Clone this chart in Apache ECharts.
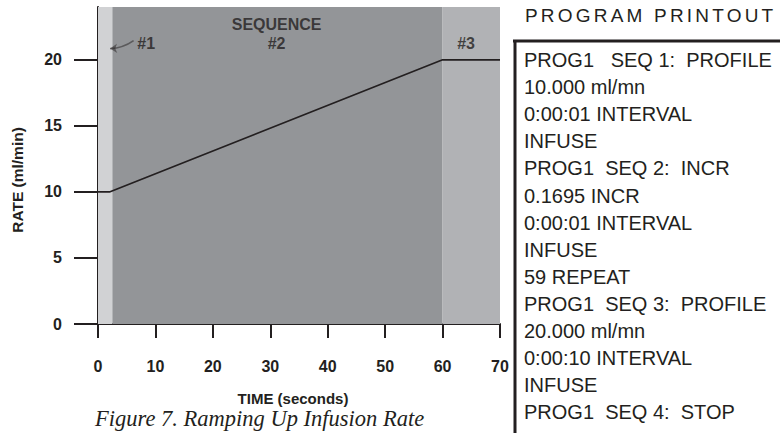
<!DOCTYPE html>
<html>
<head>
<meta charset="utf-8">
<script src="https://cdn.jsdelivr.net/npm/echarts@6/dist/echarts.min.js"></script>
<style>
  html, body { margin: 0; padding: 0; background: #fff; }
  #main { width: 780px; height: 433px; }
</style>
</head>
<body>
<div id="main"></div>
<script>
// rate profile (seconds, ml/min)
var times = [0, 2, 60, 70];
var rates = [10, 10, 20, 20];

var xTicks = [0, 10, 20, 30, 40, 50, 60, 70];
var yTicks = [0, 5, 10, 15, 20];

// sequence bands: [from, to]
var bandNames = ['#1', '#2', '#3'];
var bandRanges = [[0, 2.5], [2.5, 60], [60, 70]];
var bandColors = ['#d1d2d4', '#939598', '#b1b2b5'];

// annotation labels in data coords
var noteTexts = ['SEQUENCE', '#2', '#3', '#1'];
var notePos = [[31.1, 22.7], [31.1, 21.2], [64.1, 21.2], [8.4, 21.2]];
var arrowFrom = [6.2, 21.45];
var arrowTo = [2.1, 20.85];

var printTitle = 'PROGRAM PRINTOUT';
var printLines = [
    'PROG1   SEQ 1:  PROFILE',
    '10.000 ml/mn',
    '0:00:01 INTERVAL',
    'INFUSE',
    'PROG1  SEQ 2:  INCR',
    '0.1695 INCR',
    '0:00:01 INTERVAL',
    'INFUSE',
    '59 REPEAT',
    'PROG1  SEQ 3:  PROFILE',
    '20.000 ml/mn',
    '0:00:10 INTERVAL',
    'INFUSE',
    'PROG1  SEQ 4:  STOP'
];
var caption = 'Figure 7. Ramping Up Infusion Rate';

var ink = '#231f20';
var sans = 'Liberation Sans';

var chart = echarts.init(document.getElementById('main'), null, { renderer: 'svg' });

var lineData = times.map(function (t, i) { return [t, rates[i]]; });
var bandData = bandRanges.map(function (r, i) {
    return [
        { xAxis: r[0], yAxis: 0, itemStyle: { color: bandColors[i] } },
        { xAxis: r[1], yAxis: 24 }
    ];
});
var noteData = noteTexts.map(function (t, i) {
    return { name: t, value: notePos[i] };
});

var graphics = [
    {
        type: 'text', x: 525, y: 15,
        style: { text: printTitle, font: '19px ' + sans, fill: ink, verticalAlign: 'middle' }
    },
    {
        type: 'line',
        shape: { x1: 513, y1: 41, x2: 780, y2: 41 },
        style: { stroke: ink, lineWidth: 3 }
    },
    {
        type: 'line',
        shape: { x1: 515, y1: 40, x2: 515, y2: 433 },
        style: { stroke: ink, lineWidth: 3 }
    },
    {
        type: 'text', left: 95, top: 407,
        style: { text: caption, font: 'italic 22.5px "Liberation Serif"', fill: ink }
    },
    {
        type: 'text', x: 17, y: 180, rotation: Math.PI / 2,
        style: {
            text: 'RATE (ml/min)', font: 'bold 15.5px ' + sans, fill: ink,
            align: 'center', verticalAlign: 'middle'
        }
    }
];
printLines.forEach(function (s, i) {
    graphics.push({
        type: 'text',
        x: 524, y: 60 + i * 27.1,
        style: { text: s, font: '20px ' + sans, fill: ink, verticalAlign: 'middle' }
    });
});

var option = {
    animation: false,
    backgroundColor: '#fff',
    grid: { left: 98, right: 280, top: 7, bottom: 109 },
    xAxis: [
        {
            type: 'value', min: 0, max: 70, interval: 10, offset: 8,
            name: 'TIME (seconds)', nameLocation: 'middle', nameGap: 59,
            nameTextStyle: { fontFamily: sans, fontWeight: 'bold', fontSize: 15, color: ink, padding: [0, 12, 0, 0] },
            axisLine: { show: false },
            axisTick: { length: 14, lineStyle: { color: ink, width: 2 } },
            axisLabel: { margin: 26, fontFamily: sans, fontWeight: 'bold', fontSize: 16, color: ink },
            splitLine: { show: false }
        },
        {
            type: 'value', min: 0, max: 70, position: 'bottom', offset: 0,
            axisLine: { show: true, lineStyle: { color: ink, width: 2 } },
            axisTick: { show: false }, axisLabel: { show: false }, splitLine: { show: false }
        }
    ],
    yAxis: [
        {
            type: 'value', min: 0, max: 24, offset: 4,
            axisLine: { show: false },
            axisTick: { length: 24, customValues: yTicks, lineStyle: { color: ink, width: 2 } },
            axisLabel: { margin: 32, customValues: yTicks, fontFamily: sans, fontWeight: 'bold', fontSize: 16, color: ink },
            splitLine: { show: false }
        },
        {
            type: 'value', min: 0, max: 24, position: 'left', offset: 0,
            axisLine: { show: true, lineStyle: { color: ink, width: 2 } },
            axisTick: { show: false }, axisLabel: { show: false }, splitLine: { show: false }
        }
    ],
    series: [
        {
            type: 'line',
            data: lineData,
            symbol: 'none',
            lineStyle: { color: ink, width: 1.7 },
            z: 3,
            markArea: {
                silent: true,
                data: bandData
            }
        },
        {
            type: 'scatter',
            data: noteData,
            symbolSize: 0,
            label: {
                show: true, position: 'inside', formatter: '{b}',
                fontFamily: sans, fontWeight: 'bold', fontSize: 16, color: ink
            },
            z: 4
        },
        {
            type: 'lines',
            coordinateSystem: 'cartesian2d',
            data: [{ coords: [arrowFrom, arrowTo] }],
            symbol: ['none', 'arrow'],
            symbolSize: 7,
            lineStyle: { color: ink, width: 1.7, curveness: 0.15 },
            z: 4
        }
    ],
    graphic: graphics
};

chart.setOption(option);

// the printed heading is widely tracked
function spaceHeading() {
    var texts = document.querySelectorAll('#main text');
    for (var i = 0; i < texts.length; i++) {
        if (texts[i].textContent === printTitle) {
            texts[i].setAttribute('letter-spacing', '3.2px');
        }
    }
}
spaceHeading();
chart.on('finished', spaceHeading);
</script>
</body>
</html>
